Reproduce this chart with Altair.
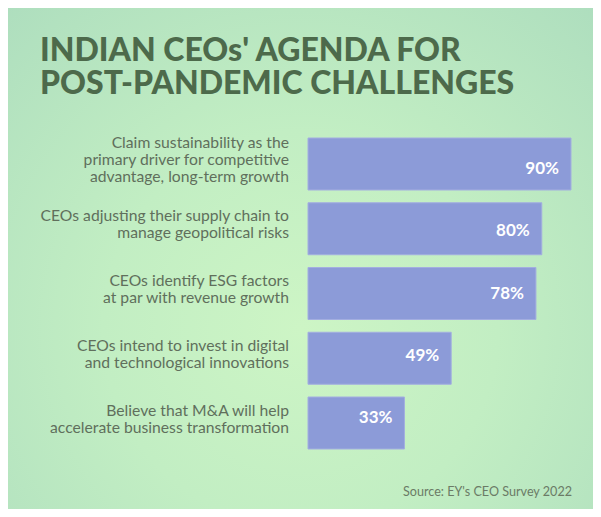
import altair as alt
import pandas as pd

categories = [
    "Claim sustainability as the\nprimary driver for competitive\nadvantage, long-term growth",
    "CEOs adjusting their supply chain to\nmanage geopolitical risks",
    "CEOs identify ESG factors\nat par with revenue growth",
    "CEOs intend to invest in digital\nand technological innovations",
    "Believe that M&A will help\naccelerate business transformation",
]
values = [90, 80, 78, 49, 33]
value_labels = ["90%", "80%", "78%", "49%", "33%"]
title_lines = ["INDIAN CEOs' AGENDA FOR", "POST-PANDEMIC CHALLENGES"]
source_text = "Source: EY's CEO Survey 2022"

df = pd.DataFrame({"cat": categories, "value": values, "label": value_labels})

W, H = 585, 501
LH = 17
Y0, Y1, PAD = 130, 441, 0.197
xscale = alt.Scale(domain=[0, 90], range=[300, 563])
yscale = alt.Scale(domain=categories, range=[Y0, Y1], paddingInner=PAD, paddingOuter=0)
half_band = (Y1 - Y0) / (len(categories) - PAD) * (1 - PAD) / 2

bgdf = pd.DataFrame({"k": [0]})
background = alt.Chart(bgdf).mark_rect(
    color=alt.Gradient(
        gradient="radial",
        stops=[
            alt.GradientStop(color="#cdf5c5", offset=0),
            alt.GradientStop(color="#c2eec3", offset=0.45),
            alt.GradientStop(color="#aedebe", offset=1),
        ],
        x1=0.5, y1=0.62, r1=0, x2=0.5, y2=0.62, r2=0.75,
    )
).encode(x=alt.value(0), x2=alt.value(W), y=alt.value(0), y2=alt.value(H))

base = alt.Chart(df)

bars = base.mark_bar(color="#8c9bd8", stroke="#a3aee0", strokeWidth=1).encode(
    x=alt.X("value:Q", scale=xscale, axis=None),
    x2=alt.value(300),
    y=alt.Y("cat:N", scale=yscale, axis=None, sort=categories),
)

labels = base.transform_calculate(
    off=f"{half_band} - (length(split(datum.cat, '\\n')) - 1) * {LH} / 2 - 4"
).mark_text(
    align="right", baseline="middle", lineBreak="\n", font="Lato",
    fontSize=15.7, lineHeight=LH, color="#606f5c",
).encode(
    x=alt.value(281),
    y=alt.Y("cat:N", scale=yscale, axis=None, sort=categories),
    yOffset=alt.YOffset("off:Q", scale=None),
    text="cat:N",
)

vals = base.mark_text(
    align="right", baseline="middle", dx=-12, font="Lato", fontWeight="bold",
    fontSize=17, color="white",
).encode(
    x=alt.X("value:Q", scale=xscale, axis=None),
    y=alt.Y("cat:N", scale=yscale, axis=None, sort=categories),
    text="label:N",
)

tdf = pd.DataFrame({"t": title_lines, "i": [0, 1]})
title = alt.Chart(tdf).mark_text(
    align="left", baseline="alphabetic", font="Lato", fontWeight=900,
    fontSize=32, color="#4d6a4b",
).encode(
    x=alt.value(32),
    y=alt.Y("i:Q", scale=alt.Scale(domain=[0, 1], range=[53, 86]), axis=None),
    text="t:N",
)

sdf = pd.DataFrame({"s": [source_text]})
source = alt.Chart(sdf).mark_text(
    align="right", baseline="alphabetic", font="Lato", fontSize=12.6, color="#6b7b66",
).encode(x=alt.value(564), y=alt.value(488), text="s:N")

chart = alt.layer(background, bars, labels, vals, title, source).resolve_scale(
    y="independent"
).properties(
    width=W, height=H, padding=0,
    autosize=alt.AutoSizeParams(type="none"),
).configure_view(stroke=None).configure(background="#aedebe")

chart.save("out.html", embed_options={"renderer": "svg", "actions": False})
